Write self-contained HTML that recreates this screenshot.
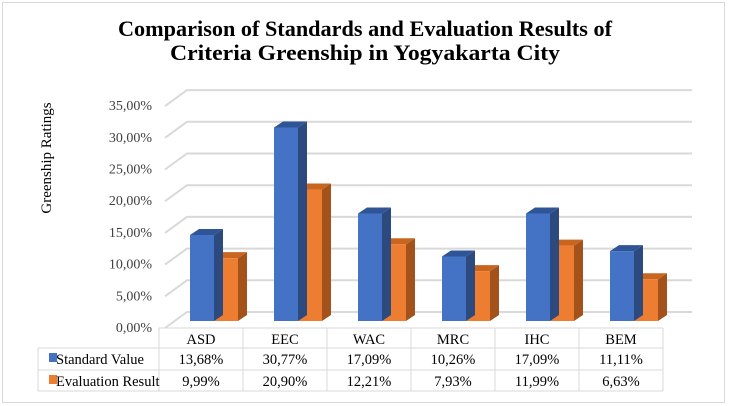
<!DOCTYPE html>
<html><head><meta charset="utf-8"><style>
html,body{margin:0;padding:0;background:#fff;}
svg{display:block;font-family:"Liberation Serif",serif;}
</style></head><body>
<svg id="chart" width="729" height="406" viewBox="0 0 729 406">
<rect x="2.5" y="2.5" width="722" height="400" fill="#fff" stroke="#d9d9d9"/>
<text x="365" y="36" text-anchor="middle" font-size="22" font-weight="bold" textLength="494" lengthAdjust="spacingAndGlyphs">Comparison of Standards and Evaluation Results of</text>
<text x="365" y="60" text-anchor="middle" font-size="22" font-weight="bold" textLength="390" lengthAdjust="spacingAndGlyphs">Criteria Greenship in Yogyakarta City</text>
<text transform="translate(51,158) rotate(-90)" text-anchor="middle" font-size="15">Greenship Ratings</text>
<g id="grid"></g><g id="ticks"></g><g id="bars"></g><g id="table"></g>
</svg>
<script>
const categories=["ASD","EEC","WAC","MRC","IHC","BEM"];
const standardValues=[13.68,30.77,17.09,10.26,17.09,11.11];
const evaluationValues=[9.99,20.90,12.21,7.93,11.99,6.63];
const standardLabels=["13,68%","30,77%","17,09%","10,26%","17,09%","11,11%"];
const evaluationLabels=["9,99%","20,90%","12,21%","7,93%","11,99%","6,63%"];
const tickValues=[0,5,10,15,20,25,30,35];
const tickLabels=["0,00%","5,00%","10,00%","15,00%","20,00%","25,00%","30,00%","35,00%"];
const NS="http://www.w3.org/2000/svg";
function mk(t,a,p){const e=document.createElementNS(NS,t);for(const k in a)e.setAttribute(k,a[k]);p.appendChild(e);return e;}
const frontY=v=>321-v*6.29;
const backY=v=>312-v*6.34;
const colX=i=>159+i*84;
const grid=document.getElementById('grid'),ticks=document.getElementById('ticks'),bars=document.getElementById('bars'),table=document.getElementById('table');
tickValues.forEach((v,i)=>{
  const y=backY(v);
  const g=mk('polyline',{points:`165,${y+16} 187,${y} 692,${y}`,fill:'none',stroke:'#d9d9d9','stroke-width':2},grid);
  
  
  const t=mk('text',{x:152,y:y+20,'text-anchor':'end','font-size':14,fill:'#404040'},ticks);
  t.textContent=tickLabels[i];
  
  
});
const dx=9,dy=6,w=24;
function bar(x,v,front,top,side,name){
  const y=frontY(v),b=frontY(0);
  const g=mk('g',{},bars);
  
  
  mk('polygon',{points:`${x+w},${y} ${x+w+dx},${y-dy} ${x+w+dx},${b-dy} ${x+w},${b}`,fill:side},g);
  mk('polygon',{points:`${x},${y} ${x+dx},${y-dy} ${x+w+dx},${y-dy} ${x+w},${y}`,fill:top},g);
  mk('rect',{x:x,y:y,width:w,height:b-y,fill:front},g);
}
categories.forEach((c,i)=>{
  const x=colX(i)+31;
  bar(x+w,evaluationValues[i],'#ED7D31','#c8651f','#a4521c','bar-evaluation-'+c.toLowerCase());
  bar(x,standardValues[i],'#4472C4','#2f5597','#2c4a7e','bar-standard-'+c.toLowerCase());
});
const L='#d9d9d9';
[[159,328,663,328],[38,348,663,348],[38,370,663,370],[38,391,663,391],[38,348,38,391]].forEach(a=>{
  const l=mk('line',{x1:a[0],y1:a[1],x2:a[2],y2:a[3],stroke:L},table);
  
  
});
for(let i=0;i<=categories.length;i++){
  const l=mk('line',{x1:colX(i),y1:328,x2:colX(i),y2:391,stroke:L},table);
  
  
}
function txt(x,y,s,name,anchor){
  const t=mk('text',{x:x,y:y,'text-anchor':anchor||'middle','font-size':14.5},table);
  t.textContent=s;
  
  
}
categories.forEach((c,i)=>{
  const cx=colX(i)+42;
  txt(cx,344,c,'x-category-label');
  txt(cx,364,standardLabels[i],'standard-value-cell');
  txt(cx,386,evaluationLabels[i],'evaluation-value-cell');
});
const k1=mk('rect',{x:49,y:353,width:8,height:9,fill:'#4472C4'},table);


const k2=mk('rect',{x:49,y:375,width:8,height:9,fill:'#ED7D31'},table);


txt(56,364,'Standard Value','legend-entry-standard','start');
txt(56,386,'Evaluation Result','legend-entry-evaluation','start');
</script>
</body></html>
